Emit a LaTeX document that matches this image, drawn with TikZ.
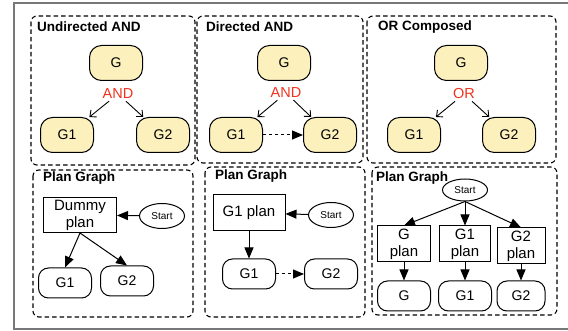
\documentclass[tikz,border=0pt]{standalone}
\usepackage{fontspec}
\setmainfont{Liberation Sans}
\usetikzlibrary{shapes.geometric,arrows.meta}

\definecolor{goalfill}{RGB}{252,240,189}
\definecolor{andred}{RGB}{240,50,30}
\definecolor{framegray}{RGB}{120,120,120}

\tikzset{
	panel/.style={draw, dash pattern=on 4.5pt off 3pt, rounded corners=6pt, line width=1.1pt},
	paneltitle/.style={anchor=west, inner sep=0pt, font=\fontsize{13.5}{15}\selectfont\bfseries},
	goal/.style={draw, fill=goalfill, rounded corners=12pt, minimum width=53pt, minimum height=35pt, line width=1pt, font=\fontsize{14}{16}\selectfont},
	pgoal/.style={draw, rounded corners=10pt, minimum width=53pt, minimum height=30pt, line width=1pt, font=\fontsize{14}{16}\selectfont},
	plan/.style={draw, rectangle, align=center, inner sep=1pt, line width=1pt, font=\fontsize{15}{17}\selectfont},
	startnode/.style={draw, ellipse, minimum width=45pt, minimum height=25pt, inner sep=0pt, line width=1pt, font=\fontsize{10}{12}\selectfont},
	decomp/.style={text=andred, font=\fontsize{14.5}{16}\selectfont, inner sep=2pt},
	openarrow/.style={-{Straight Barb[length=5pt,width=9pt]}, line width=0.9pt},
	fillarrow/.style={-{Triangle[length=11pt,width=9pt]}, line width=1pt},
}

\begin{document}
\begin{tikzpicture}[x=1pt, y=-1pt]
		\useasboundingbox (0, 0) rectangle (568, 331);
		\clip (0, 0) rectangle (568, 331);

		% outer frame
		\draw[framegray, line width=2pt] (14, 3) rectangle (590, 329);

		% panels
		\draw[panel] (31, 16) rectangle (195, 165);
		\draw[panel] (197, 16) rectangle (363, 163);
		\draw[panel] (367, 16) rectangle (556, 163);
		\draw[panel] (33, 170) rectangle (193, 317);
		\draw[panel] (205, 167) rectangle (365, 317);
		\draw[panel] (372, 167) rectangle (557, 315);

		% undirected AND
		\node[paneltitle] (T1) at (37, 27) {Undirected AND};
		\node[goal] (uG) at (116, 63) {G};
		\node[decomp] (uAND) at (118, 94) {AND};
		\node[goal] (uG1) at (67, 135) {G1};
		\node[goal] (uG2) at (163, 135) {G2};
		\draw[openarrow] (uAND) -- (uG1);
		\draw[openarrow] (uAND) -- (uG2);

		% directed AND
		\node[paneltitle] (T2) at (206, 27) {Directed AND};
		\node[goal] (dG) at (284, 63) {G};
		\node[decomp] (dAND) at (286, 93) {AND};
		\node[goal] (dG1) at (236, 135) {G1};
		\node[goal] (dG2) at (330, 135) {G2};
		\draw[openarrow] (dAND) -- (dG1);
		\draw[openarrow] (dAND) -- (dG2);
		\draw[fillarrow, dashed] (dG1) -- (dG2);

		% OR composed
		\node[paneltitle] (T3) at (378, 27) {OR Composed};
		\node[goal] (oG) at (461, 63) {G};
		\node[decomp] (oOR) at (464, 94) {OR};
		\node[goal] (oG1) at (414, 135) {G1};
		\node[goal] (oG2) at (509, 135) {G2};
		\draw[openarrow] (oOR) -- (oG1);
		\draw[openarrow] (oOR) -- (oG2);

		% plan graph 1
		\node[paneltitle] (T4) at (43, 178) {Plan Graph};
		\node[plan, minimum width=73pt, minimum height=35pt] (uPlan) at (80, 215) {Dummy\\plan};
		\node[startnode] (uStart) at (162, 216) {Start};
		\node[pgoal] (uPG1) at (65, 283) {G1};
		\node[pgoal] (uPG2) at (127, 281) {G2};
		\draw[fillarrow] (uStart) -- (uPlan);
		\draw[fillarrow] (uPlan.south) -- (uPG1.north);
		\draw[fillarrow] (uPlan.south) -- (uPG2.north);

		% plan graph 2
		\node[paneltitle] (T5) at (215, 176) {Plan Graph};
		\node[plan, minimum width=72pt, minimum height=36pt] (dPlan) at (249, 213) {G1 plan};
		\node[startnode] (dStart) at (331, 215) {Start};
		\node[pgoal] (dPG1) at (249, 274) {G1};
		\node[pgoal] (dPG2) at (331, 274) {G2};
		\draw[fillarrow] (dStart) -- (dPlan);
		\draw[fillarrow] (dPlan) -- (dPG1);
		\draw[fillarrow, dashed] (dPG1) -- (dPG2);

		% plan graph 3
		\node[paneltitle] (T6) at (376, 178) {Plan Graph};
		\node[startnode, minimum height=22pt] (oStart) at (465, 190) {Start};
		\node[plan, minimum width=53pt, minimum height=36pt] (oPlan) at (404, 244) {G\\plan};
		\node[plan, minimum width=51pt, minimum height=36pt] (oPlan1) at (465, 244) {G1\\plan};
		\node[plan, minimum width=48pt, minimum height=36pt] (oPlan2) at (521, 246) {G2\\plan};
		\node[pgoal] (oPG) at (404, 296) {G};
		\node[pgoal] (oPG1) at (465, 296) {G1};
		\node[pgoal, minimum width=48pt] (oPG2) at (521, 296) {G2};
		\draw[fillarrow] (oStart.south) -- (oPlan.north);
		\draw[fillarrow] (oStart.south) -- (oPlan1.north);
		\draw[fillarrow] (oStart.south) -- (oPlan2.north);
		\draw[fillarrow] (oPlan) -- (oPG);
		\draw[fillarrow] (oPlan1) -- (oPG1);
		\draw[fillarrow] (oPlan2) -- (oPG2);
	\end{tikzpicture}
\end{document}
